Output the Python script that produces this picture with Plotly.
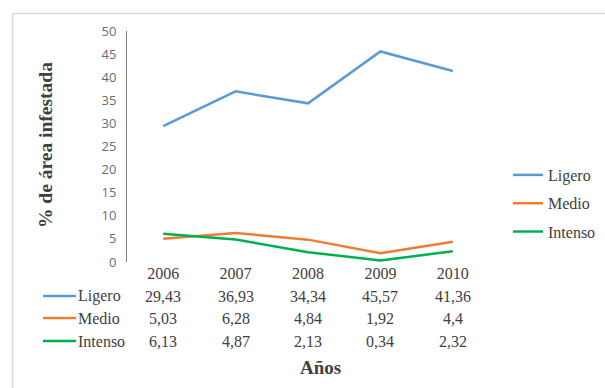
import plotly.graph_objects as go

years = ["2006", "2007", "2008", "2009", "2010"]
series_names = ["Ligero", "Medio", "Intenso"]
ligero = [29.43, 36.93, 34.34, 45.57, 41.36]
medio = [5.03, 6.28, 4.84, 1.92, 4.4]
intenso = [6.13, 4.87, 2.13, 0.34, 2.32]
colors = ["#5B9BD5", "#ED7D31", "#00B050"]
y_ticks = list(range(0, 51, 5))

W, H = 605, 388
L, R, T, B = 127, 489, 31, 262  # plot area pixels
pw, ph = R - L, B - T

def px_x(x):
    return (x - L) / pw

def px_y(y):
    return (B - y) / ph

serif = "Liberation Serif, Times New Roman, serif"
txt_col = "#404040"

fig = go.Figure()
all_series = [ligero, medio, intenso]
for name, vals, col in zip(series_names, all_series, colors):
    fig.add_trace(go.Scatter(x=years, y=vals, mode="lines", name=name,
                             line=dict(color=col, width=2.5),
                             legendgroup=name))

annotations = []
shapes = []
row_y = [296, 318, 341]
for name, vals, col, ry in zip(series_names, all_series, colors, row_y):
    for i, v in enumerate(vals):
        annotations.append(dict(x=i, y=px_y(ry), xref="x", yref="paper",
                                text=("%g" % v).replace(".", ","), showarrow=False,
                                font=dict(family=serif, size=16, color=txt_col),
                                xanchor="center", yanchor="middle"))
    annotations.append(dict(x=px_x(76), y=px_y(ry), xref="paper", yref="paper",
                            text=name, showarrow=False,
                            font=dict(family=serif, size=16, color=txt_col),
                            xanchor="left", yanchor="middle"))
    shapes.append(dict(type="line", xref="paper", yref="paper",
                       x0=px_x(43), x1=px_x(76), y0=px_y(ry), y1=px_y(ry),
                       line=dict(color=col, width=2.5)))

annotations.append(dict(x=px_x(45), y=px_y(145), xref="paper", yref="paper",
                        text="<b>% de área infestada</b>", textangle=-90, showarrow=False,
                        font=dict(family=serif, size=19.5, color=txt_col),
                        xanchor="center", yanchor="middle"))
annotations.append(dict(x=px_x(320), y=px_y(367), xref="paper", yref="paper",
                        text="<b>Años</b>", showarrow=False,
                        font=dict(family=serif, size=19, color=txt_col),
                        xanchor="center", yanchor="middle"))

# outer chart border
shapes.append(dict(type="rect", xref="paper", yref="paper",
                   x0=px_x(12.5), x1=px_x(620), y0=px_y(13.5), y1=px_y(400),
                   line=dict(color="#d9d9d9", width=1.5), layer="below"))

fig.update_layout(
    width=W, height=H,
    margin=dict(l=L, r=W - R, t=T, b=H - B, pad=0, autoexpand=False),
    paper_bgcolor="white", plot_bgcolor="white",
    showlegend=True,
    legend=dict(x=px_x(508), y=px_y(158), xanchor="left", yanchor="top",
                font=dict(family=serif, size=16, color=txt_col),
                tracegroupgap=4.5, bgcolor="rgba(0,0,0,0)"),
    xaxis=dict(type="category", range=[-0.5, 4.5], showgrid=False, showline=False,
               zeroline=False, ticks="", tickfont=dict(family=serif, size=16, color=txt_col)),
    yaxis=dict(range=[0, 50], tickvals=y_ticks, showgrid=False, showline=True,
               linecolor="#7f7f7f", linewidth=1, zeroline=False, ticks="",
               ticklabelstandoff=7,
               tickfont=dict(family="Open Sans, DejaVu Sans, sans-serif", size=13, color="#6b6b6b")),
    annotations=annotations, shapes=shapes,
)

fig.write_html("out.html")
